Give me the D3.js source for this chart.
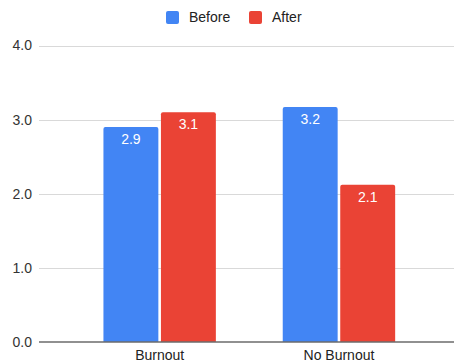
<!DOCTYPE html>
<html>
<head>
<meta charset="utf-8">
<script src="https://cdn.jsdelivr.net/npm/d3@7"></script>
<style>
html,body{margin:0;padding:0;background:#fff;}
svg{display:block;font-family:"Liberation Sans",Arial,sans-serif;}
</style>
</head>
<body>
<svg id="chart" width="454" height="364"></svg>
<script>
const categories = ["Burnout", "No Burnout"];
const seriesNames = ["Before", "After"];
const beforeValues = [2.9, 3.17];
const afterValues = [3.1, 2.12];
const yTicks = [0, 1, 2, 3, 4];
const colors = ["#4285F4", "#EA4335"];

const svg = d3.select("#chart");
const plot = {left: 39, right: 454, top: 45.5, bottom: 342};

const y = d3.scaleLinear().domain([0, 4]).range([plot.bottom, plot.top]);
const x0 = d3.scaleBand().domain(categories).range([70, 428.6])
  .paddingInner(0.373).paddingOuter(0.1865);
const x1 = d3.scaleBand().domain(seriesNames).range([0, x0.bandwidth()]).paddingInner(0.045);

// gridlines
svg.append("g").selectAll("line").data(yTicks.filter(d => d > 0)).join("line")
  .attr("x1", plot.left).attr("x2", plot.right)
  .attr("y1", d => Math.round(y(d)) + 0.5).attr("y2", d => Math.round(y(d)) + 0.5)
  .attr("stroke", "#d9d9d9").attr("stroke-width", 1);

// y tick labels
svg.append("g").selectAll("text").data(yTicks).join("text")
  .attr("x", 32).attr("y", d => y(d)).attr("dy", "0.35em")
  .attr("text-anchor", "end").attr("font-size", 14).attr("fill", "#333")
  .text(d => d3.format(".1f")(d));

const data = categories.map((c, i) => ({cat: c, vals: [
  {s: seriesNames[0], v: beforeValues[i], c: colors[0]},
  {s: seriesNames[1], v: afterValues[i], c: colors[1]}]}));

function topRounded(x, yTop, w, yBot, r) {
  return `M${x},${yBot}V${yTop + r}Q${x},${yTop} ${x + r},${yTop}H${x + w - r}Q${x + w},${yTop} ${x + w},${yTop + r}V${yBot}Z`;
}

const groups = svg.append("g").selectAll("g").data(data).join("g")
  .attr("transform", d => `translate(${x0(d.cat)},0)`);

groups.selectAll("path").data(d => d.vals).join("path")
  .attr("d", d => topRounded(x1(d.s), y(d.v), x1.bandwidth(), y(0), 2))
  .attr("fill", d => d.c);

groups.selectAll("text").data(d => d.vals).join("text")
  .attr("x", d => x1(d.s) + x1.bandwidth() / 2)
  .attr("y", d => y(d.v) + 12).attr("dy", "0.35em")
  .attr("text-anchor", "middle").attr("font-size", 14).attr("fill", "#fff")
  .text(d => d3.format(".1f")(d.v));

// baseline
svg.append("line").attr("x1", plot.left).attr("x2", plot.right)
  .attr("y1", y(0)).attr("y2", y(0)).attr("stroke", "#6b6b6b").attr("stroke-width", 1.5);

// x labels
svg.append("g").selectAll("text").data(categories).join("text")
  .attr("x", d => x0(d) + x0.bandwidth() / 2).attr("y", 355).attr("dy", "0.35em")
  .attr("text-anchor", "middle").attr("font-size", 14).attr("fill", "#222")
  .text(d => d);

// legend
const legendX = [166, 249];
const leg = svg.append("g").selectAll("g").data(seriesNames).join("g")
  .attr("transform", (d, i) => `translate(${legendX[i]},11)`);
leg.append("rect").attr("width", 13).attr("height", 13).attr("rx", 2)
  .attr("fill", (d, i) => colors[i]);
leg.append("text").attr("x", 23).attr("y", 6.5).attr("dy", "0.35em")
  .attr("font-size", 14).attr("fill", "#222").text(d => d);
</script>
</body>
</html>
